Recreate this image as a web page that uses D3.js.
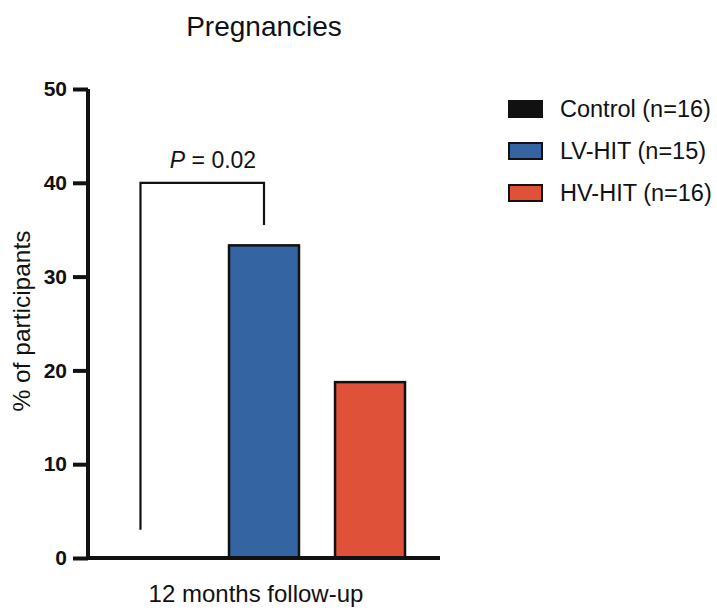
<!DOCTYPE html>
<html><head><meta charset="utf-8">
<script src="https://cdn.jsdelivr.net/npm/d3@7"></script>
<style>body{margin:0;background:#fff;} svg{display:block;font-family:"Liberation Sans",Arial,sans-serif;}</style>
</head><body><svg id="c" width="717" height="610"></svg>
<script>
const groups = ["Control (n=16)", "LV-HIT (n=15)", "HV-HIT (n=16)"];
const values = [0, 33.33, 18.75];
const colors = ["#111111", "#3564a3", "#e05139"];
const yTicks = [0, 10, 20, 30, 40, 50];
const xCategory = "12 months follow-up";
const pLabelValue = "0.02";
const bracketTop = 40, bracketLeftBottom = 3, bracketRightBottom = 35.5;

const svg = d3.select("#c");
const y = d3.scaleLinear().domain([0, 50]).range([558, 89]);
const x = d3.scaleBand().domain(groups).range([88, 440]).paddingInner(0.34).paddingOuter(0.33);

// bars
svg.selectAll("rect.bar").data(groups).join("rect")
  .attr("x", d => x(d)).attr("width", x.bandwidth())
  .attr("y", (d,i) => y(values[i])).attr("height", (d,i) => y(0) - y(values[i]))
  .attr("fill", (d,i) => colors[i]).attr("stroke", "#111").attr("stroke-width", 2.5);

// y axis
const yAxis = svg.append("g").attr("transform", "translate(88,0)")
  .call(d3.axisLeft(y).tickValues(yTicks).tickSize(15).tickPadding(6));
yAxis.select(".domain").attr("stroke", "#111").attr("stroke-width", 4).attr("d", `M0,${y(50)}V${y(0)+2}`);
yAxis.selectAll(".tick line").attr("stroke", "#111").attr("stroke-width", 4);
yAxis.selectAll(".tick text").attr("font-size", 21).attr("font-weight", "bold").attr("fill", "#111")
  .attr("font-family", "Liberation Sans, Arial, sans-serif");

// x axis line
svg.append("line").attr("x1", 86).attr("x2", 440).attr("y1", y(0)).attr("y2", y(0))
  .attr("stroke", "#111").attr("stroke-width", 4);

// x label
svg.append("text").attr("x", 256).attr("y", 602).attr("text-anchor", "middle")
  .attr("font-size", 24).attr("fill", "#111").text(xCategory);

// y label
svg.append("text").attr("transform", "translate(30,321) rotate(-90)").attr("text-anchor", "middle")
  .attr("font-size", 24.5).attr("fill", "#111").text("% of participants");

// title
svg.append("text").attr("x", 264).attr("y", 36).attr("text-anchor", "middle")
  .attr("font-size", 28).attr("fill", "#111").text("Pregnancies");

// bracket
const bx1 = x(groups[0]) + x.bandwidth() * 0.25;
const bx2 = x(groups[1]) + x.bandwidth() / 2;
svg.append("path")
  .attr("d", `M${bx1},${y(bracketLeftBottom)}V${y(bracketTop)}H${bx2}V${y(bracketRightBottom)}`)
  .attr("fill", "none").attr("stroke", "#111").attr("stroke-width", 2.2);
const pt = svg.append("text").attr("x", 213).attr("y", 168).attr("text-anchor", "middle")
  .attr("font-size", 23).attr("fill", "#111");
pt.append("tspan").attr("font-style", "italic").text("P");
pt.append("tspan").text(" = " + pLabelValue);

// legend
const lg = svg.append("g");
groups.forEach((g, i) => {
  const cy = 109 + i * 42;
  lg.append("rect").attr("x", 509).attr("y", cy - 8).attr("width", 33).attr("height", 16)
    .attr("fill", colors[i]).attr("stroke", "#111").attr("stroke-width", 2);
  lg.append("text").attr("x", 560).attr("y", cy + 8).attr("font-size", 23.5).attr("fill", "#111").text(g);
});
</script></body></html>
